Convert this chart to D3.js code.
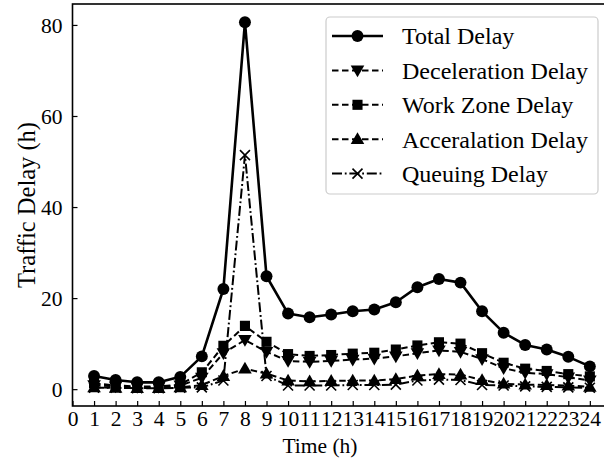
<!DOCTYPE html>
<html>
<head>
<meta charset="utf-8">
<script src="https://cdn.jsdelivr.net/npm/d3@7"></script>
<style>
  html, body { margin: 0; padding: 0; background: #fff; }
  svg text { font-family: "Liberation Serif", "Times New Roman", serif; fill: #000; }
</style>
</head>
<body>
<svg id="chart" width="604" height="465"></svg>
<script>
// Hourly traffic delay (h) per delay component
const hours = [1, 2, 3, 4, 5, 6, 7, 8, 9, 10, 11, 12, 13, 14, 15, 16, 17, 18, 19, 20, 21, 22, 23, 24];
const xTickValues = [0, 1, 2, 3, 4, 5, 6, 7, 8, 9, 10, 11, 12, 13, 14, 15, 16, 17, 18, 19, 20, 21, 22, 23, 24];
const yTickValues = [0, 20, 40, 60, 80];

const totalDelay        = [2.9, 2.0, 1.5, 1.5, 2.7, 7.2, 22.0, 80.6, 24.8, 16.6, 15.8, 16.4, 17.1, 17.5, 19.1, 22.4, 24.2, 23.4, 17.1, 12.4, 9.7, 8.7, 7.1, 5.0];
const decelerationDelay = [0.9, 0.6, 0.5, 0.5, 0.8, 2.5, 7.9, 10.8, 8.2, 6.2, 6.0, 6.2, 6.5, 6.7, 7.2, 7.9, 8.5, 8.2, 6.6, 4.6, 3.6, 3.3, 2.6, 1.9];
const workZoneDelay     = [1.3, 0.8, 0.6, 0.6, 1.0, 3.7, 9.5, 13.9, 10.4, 7.7, 7.3, 7.5, 7.8, 8.0, 8.7, 9.6, 10.3, 10.0, 7.9, 5.8, 4.5, 4.0, 3.3, 2.8];
const accelerationDelay = [0.4, 0.3, 0.25, 0.25, 0.4, 0.9, 2.9, 4.5, 3.4, 1.9, 1.7, 1.8, 1.9, 1.9, 2.2, 3.0, 3.3, 3.2, 2.0, 1.2, 1.0, 0.9, 0.8, 0.5];
const queuingDelay      = [0.3, 0.3, 0.2, 0.2, 0.3, 0.4, 1.9, 51.4, 2.9, 0.8, 0.8, 0.8, 0.9, 0.9, 1.0, 1.9, 2.1, 2.0, 0.9, 0.8, 0.6, 0.5, 0.4, 0.3];

const seriesNames = ["Total Delay", "Deceleration Delay", "Work Zone Delay", "Acceralation Delay", "Queuing Delay"];

const series = [
  { name: seriesNames[0], values: totalDelay,        marker: "circle",  dash: null,              width: 2.6 },
  { name: seriesNames[1], values: decelerationDelay, marker: "triDown", dash: "6.5,3.5",         width: 2.0 },
  { name: seriesNames[2], values: workZoneDelay,     marker: "square",  dash: "6.5,3.5",         width: 2.0 },
  { name: seriesNames[3], values: accelerationDelay, marker: "triUp",   dash: "6.5,3.5",         width: 2.0 },
  { name: seriesNames[4], values: queuingDelay,      marker: "x",       dash: "10,2.8,1.8,2.8",  width: 2.0 }
];

const svg = d3.select("#chart");
const plot = { left: 72.5, top: 4, bottom: 406, right: 611.4 };

const x = d3.scaleLinear().domain([0, 25]).range([plot.left, plot.right]);
const y = d3.scaleLinear().domain([-3.7, 84.6]).range([plot.bottom, plot.top]);

svg.append("defs").append("clipPath").attr("id", "plotClip")
  .append("rect")
  .attr("x", plot.left).attr("y", plot.top)
  .attr("width", plot.right - plot.left).attr("height", plot.bottom - plot.top);

// Marker glyphs
function drawMarker(g, kind, cx, cy) {
  if (kind === "circle") {
    g.append("path").attr("d", d3.symbol(d3.symbolCircle, 112)())
      .attr("transform", `translate(${cx},${cy})`).attr("fill", "#000");
  } else if (kind === "square") {
    g.append("path").attr("d", d3.symbol(d3.symbolSquare, 102)())
      .attr("transform", `translate(${cx},${cy})`).attr("fill", "#000");
  } else if (kind === "triUp") {
    g.append("path").attr("d", d3.symbol(d3.symbolTriangle, 80)())
      .attr("transform", `translate(${cx},${cy + 1})`).attr("fill", "#000");
  } else if (kind === "triDown") {
    g.append("path").attr("d", d3.symbol(d3.symbolTriangle, 80)())
      .attr("transform", `translate(${cx},${cy - 1}) rotate(180)`).attr("fill", "#000");
  } else if (kind === "x") {
    const r = 5;
    g.append("path")
      .attr("d", `M${-r},${-r}L${r},${r}M${-r},${r}L${r},${-r}`)
      .attr("transform", `translate(${cx},${cy})`)
      .attr("stroke", "#000").attr("stroke-width", 1.6).attr("fill", "none");
  }
}

// Series lines and markers
const line = d3.line().x((d, i) => x(hours[i])).y(d => y(d));
const seriesLayer = svg.append("g").attr("clip-path", "url(#plotClip)");
series.forEach(s => {
  const g = seriesLayer.append("g");
  g.append("path")
    .datum(s.values)
    .attr("d", line)
    .attr("fill", "none")
    .attr("stroke", "#000")
    .attr("stroke-width", s.width)
    .attr("stroke-dasharray", s.dash)
    .attr("stroke-linejoin", "round");
  s.values.forEach((v, i) => drawMarker(g, s.marker, x(hours[i]), y(v)));
});

// Axes: ticks point inward
const xAxis = d3.axisBottom(x).tickValues(xTickValues).tickFormat(d3.format("d"))
  .tickSizeInner(-5).tickSizeOuter(0).tickPadding(5);
const yAxis = d3.axisLeft(y).tickValues(yTickValues).tickFormat(d3.format("d"))
  .tickSizeInner(-5).tickSizeOuter(0).tickPadding(10);

const gx = svg.append("g").attr("transform", `translate(0,${plot.bottom})`).call(xAxis);
const gy = svg.append("g").attr("transform", `translate(${plot.left},0)`).call(yAxis);
[gx, gy].forEach(g => {
  g.select(".domain").remove();
  g.selectAll(".tick line").attr("stroke", "#000").attr("stroke-width", 1.2);
  g.selectAll(".tick text").attr("font-size", 21.5).attr("font-family", "Liberation Serif, serif").attr("fill", "#000");
});
gx.selectAll(".tick text").attr("dy", "0.71em");
gy.selectAll(".tick text").attr("dy", "0.34em");

// Frame (right edge lies past the canvas)
svg.append("rect")
  .attr("x", plot.left).attr("y", plot.top)
  .attr("width", plot.right - plot.left).attr("height", plot.bottom - plot.top)
  .attr("fill", "none").attr("stroke", "#000").attr("stroke-width", 1.6);

// Axis titles
svg.append("text")
  .attr("x", 320).attr("y", 453)
  .attr("text-anchor", "middle").attr("font-size", 21.5)
  .text("Time (h)");
svg.append("text")
  .attr("transform", `translate(35,${(plot.top + plot.bottom) / 2}) rotate(-90)`)
  .attr("text-anchor", "middle").attr("font-size", 24.5)
  .text("Traffic Delay (h)");

// Legend
const legend = svg.append("g");
legend.append("rect")
  .attr("x", 326).attr("y", 17).attr("width", 272).attr("height", 177)
  .attr("rx", 4).attr("ry", 4)
  .attr("fill", "#fff").attr("fill-opacity", 0.85)
  .attr("stroke", "#ccc").attr("stroke-width", 1.2);

series.forEach((s, i) => {
  const cy = 36 + i * 34.4;
  const g = legend.append("g");
  g.append("line")
    .attr("x1", 332).attr("x2", 383).attr("y1", cy).attr("y2", cy)
    .attr("stroke", "#000").attr("stroke-width", s.width)
    .attr("stroke-dasharray", s.dash);
  drawMarker(g, s.marker, 357.5, cy);
  g.append("text")
    .attr("x", 402).attr("y", cy).attr("dy", "0.35em")
    .attr("font-size", 24)
    .text(s.name);
});
</script>
</body>
</html>
